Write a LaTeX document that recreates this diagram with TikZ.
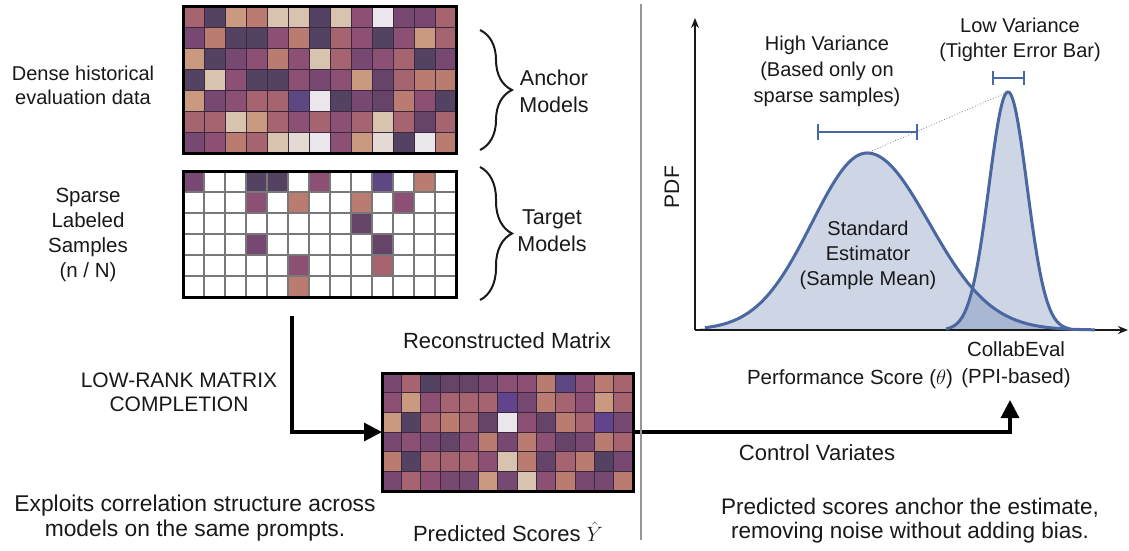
\documentclass[tikz,border=0pt]{standalone}
\usepackage{fontspec}
\setmainfont{Liberation Sans}
\usetikzlibrary{arrows.meta,decorations.pathreplacing}
\definecolor{cD}{RGB}{84,66,98}
\definecolor{cQ}{RGB}{102,68,106}
\definecolor{cP}{RGB}{118,72,114}
\definecolor{cM}{RGB}{140,80,116}
\definecolor{cR}{RGB}{166,100,112}
\definecolor{cS}{RGB}{186,124,112}
\definecolor{cT}{RGB}{202,154,128}
\definecolor{cB}{RGB}{216,196,174}
\definecolor{cL}{RGB}{228,218,212}
\definecolor{cW}{RGB}{234,230,236}
\definecolor{cV}{RGB}{94,72,132}
\definecolor{cX}{RGB}{98,68,142}
\definecolor{cw}{RGB}{255,255,255}
\definecolor{txt}{RGB}{25,25,25}
\definecolor{curve}{RGB}{74,103,161}
\definecolor{divgray}{RGB}{150,150,150}
\definecolor{gridD}{RGB}{60,40,60}
\definecolor{gridG}{RGB}{120,120,120}
\begin{document}
\begin{tikzpicture}[x=1pt,y=-1pt,
  declare function={zA(\u)=(\u-867)/(55+7*(\u>867)); gA(\u)=177*exp(-0.5*zA(\u)*zA(\u)); zB(\u)=(\u-1008)/19; gB(\u)=238*exp(-0.5*zB(\u)*zB(\u));},
  lbl/.style={text=txt, inner sep=0pt, align=center},
  fa/.style={font=\fontsize{20}{24}\selectfont},
  fb/.style={font=\fontsize{20.5}{25}\selectfont},
  fc/.style={font=\fontsize{21.5}{27}\selectfont},
  fd/.style={font=\fontsize{21}{24}\selectfont},
  fe/.style={font=\fontsize{22}{25}\selectfont},
  ff/.style={font=\fontsize{20}{26}\selectfont},
  fg/.style={font=\fontsize{20}{25}\selectfont},
  mat/.style={draw=black, line width=3pt, inner sep=0pt, outer sep=0pt},
  flow/.style={draw=black, line width=3.2pt, -{Triangle[length=18pt,width=18pt]}},
  bracestyle/.style={decorate, decoration={brace, amplitude=32pt}, line width=2pt, draw=txt},
  axisline/.style={draw=txt, line width=1.5pt, -{Stealth[length=10pt,width=8pt]}},
  ebar/.style={draw=curve, line width=2.5pt},
]
\useasboundingbox (0,0) rectangle (1129,550);
\fill[white] (0,0) rectangle (1129,550);

% ---------- dense matrix ----------
\foreach \rw [count=\r from 0] in {{R,D,T,S,B,B,D,B,M,W,P,P,R},{P,S,D,D,M,S,D,R,M,D,M,T,R},{T,D,P,M,S,M,B,R,P,M,R,D,P},{D,B,M,D,D,M,P,M,T,Q,R,S,S},{T,P,M,R,R,V,W,D,P,Q,S,M,D},{R,R,B,T,R,M,R,M,R,B,R,Q,R},{P,M,S,R,B,L,W,M,T,L,D,W,S}} {
  \foreach \cc [count=\k from 0] in \rw {
    \fill[fill=c\cc] ({183+21*\k},{6+21*\r}) rectangle ++(21,21);
  }
}
\foreach \k in {1,...,12} \draw[gridD, line width=0.8pt] ({183+21*\k},6) -- ++(0,147);
\foreach \r in {1,...,6} \draw[gridD, line width=0.8pt] (183,{6+21*\r}) -- ++(273,0);
\node[mat, minimum width=273pt, minimum height=147pt] (M1) at (319.5,79.5) {};

% ---------- sparse matrix ----------
\foreach \rw [count=\r from 0] in {{P,w,w,D,D,w,M,w,w,V,w,S,w},{w,w,w,M,w,S,w,w,S,w,M,w,w},{w,w,w,w,w,w,w,w,Q,w,w,w,w},{w,w,w,P,w,w,w,w,w,Q,w,w,w},{w,w,w,w,w,M,w,w,w,R,w,w,w},{w,w,w,w,w,S,w,w,w,w,w,w,w}} {
  \foreach \cc [count=\k from 0] in \rw {
    \fill[fill=c\cc] ({183+21*\k},{171+21*\r}) rectangle ++(21,21);
  }
}
\foreach \k in {1,...,12} \draw[gridG, line width=1.2pt] ({183+21*\k},171) -- ++(0,126);
\foreach \r in {1,...,5} \draw[gridG, line width=1.2pt] (183,{171+21*\r}) -- ++(273,0);
\node[mat, minimum width=273pt, minimum height=126pt] (M2) at (319.5,234) {};

% ---------- reconstructed matrix ----------
\begin{scope}[shift={(382,373)}, x=19.3077pt, y=-19.6667pt]
\foreach \rw [count=\r from 0] in {{P,R,D,Q,Q,P,M,M,S,V,M,S,R},{M,T,M,R,R,R,X,P,S,R,M,T,R},{T,D,R,S,R,Q,W,M,Q,S,R,X,P},{P,M,P,Q,M,S,P,S,M,Q,P,S,R},{S,D,R,R,R,M,B,S,Q,R,S,D,P},{P,R,M,P,P,T,P,B,M,S,P,P,S}} {
  \foreach \cc [count=\k from 0] in \rw {
    \fill[fill=c\cc] (\k,\r) rectangle ++(1,1);
  }
}
\foreach \k in {1,...,12} \draw[gridD, line width=0.8pt] (\k,0) -- (\k,6);
\foreach \r in {1,...,5} \draw[gridD, line width=0.8pt] (0,\r) -- (13,\r);
\end{scope}
\node[mat, minimum width=251pt, minimum height=118pt] (M3) at (507.5,432) {};

% ---------- braces ----------
\draw[bracestyle] (480,30) -- (480,150);
\draw[bracestyle] (480,167) -- (480,300);

% ---------- left texts ----------
\node[lbl, fa] (dense) at (83,85) {Dense historical\\evaluation data};
\node[lbl, fb] (sparse) at (88,235) {Sparse\\Labeled\\Samples\\(n / N)};
\node[lbl, fc] (anchor) at (554,91) {Anchor\\Models};
\node[lbl, fc] (target) at (552,231) {Target\\Models};
\node[lbl, fd] (lowrank) at (179,392) {LOW-RANK MATRIX\\COMPLETION};
\node[lbl, fe] (recon) at (507,341) {Reconstructed Matrix};
\node[lbl, font=\fontsize{22.8}{25}\selectfont] (exploits) at (195,518) {Exploits correlation structure across\\models on the same prompts.};
\node[lbl, fe] (predicted) at (508,532) {Predicted Scores $\hat{Y}$};

% ---------- connectors ----------
\coordinate (startA) at (292,316);
\coordinate (tipC) at (1010,400);
\draw[flow] (startA) |- (M3.west);
\draw[flow] (M3.east) -| (tipC);

% ---------- divider ----------
\coordinate (divtop) at (641,4);
\coordinate (divbot) at (641,540);
\draw[divgray, line width=2pt] (divtop) -- (divbot);

% ---------- plot ----------
\fill[curve, fill opacity=0.27] (700,330) -- plot[domain=700:1100, samples=181] (\x,{330-gA(\x)}) -- (1100,330) -- cycle;
\fill[curve, fill opacity=0.27] (945,330) -- plot[domain=945:1072, samples=121] (\x,{330-gB(\x)}) -- (1072,330) -- cycle;
\coordinate (O) at (695,330);
\coordinate (Ytop) at (695,18);
\coordinate (Xend) at (1128,330);
\draw[axisline] (O) -- (Ytop);
\draw[axisline] (O) -- (Xend);
\draw[curve, line width=3pt, line join=round] plot[domain=705:1095, samples=181] (\x,{330-gA(\x)});
\draw[curve, line width=3pt, line join=round] plot[domain=946:1070, samples=121] (\x,{330-gB(\x)});
\coordinate (peakA) at (867,153);
\coordinate (peakB) at (1008,92);
\draw[gray, dotted, line width=0.8pt] (peakA) -- (peakB);
\draw[ebar] (818,132) -- (917,132);
\draw[ebar] (818,124) -- (818,140);
\draw[ebar] (917,124) -- (917,140);
\draw[ebar] (993,78) -- (1024,78);
\draw[ebar] (993,71) -- (993,85);
\draw[ebar] (1024,71) -- (1024,85);

\node[lbl, fd, rotate=90] (pdf) at (672,187) {PDF};
\node[lbl, ff] (highvar) at (827,71) {High Variance\\(Based only on\\sparse samples)};
\node[lbl, fg] (lowvar) at (1020,40) {Low Variance\\(Tighter Error Bar)};
\node[lbl, fg] (standard) at (868,255) {Standard\\Estimator\\(Sample Mean)};
\node[lbl, fb] (perf) at (850,379) {Performance Score ($\theta$)};
\node[lbl, font=\fontsize{20.5}{27}\selectfont] (collab) at (1016,365) {CollabEval\\(PPI-based)};
\node[lbl, fe] (control) at (817,453) {Control Variates};
\node[lbl, font=\fontsize{22.5}{24}\selectfont] (anchorest) at (910,521) {Predicted scores anchor the estimate,\\removing noise without adding bias.};
\end{tikzpicture}
\end{document}
